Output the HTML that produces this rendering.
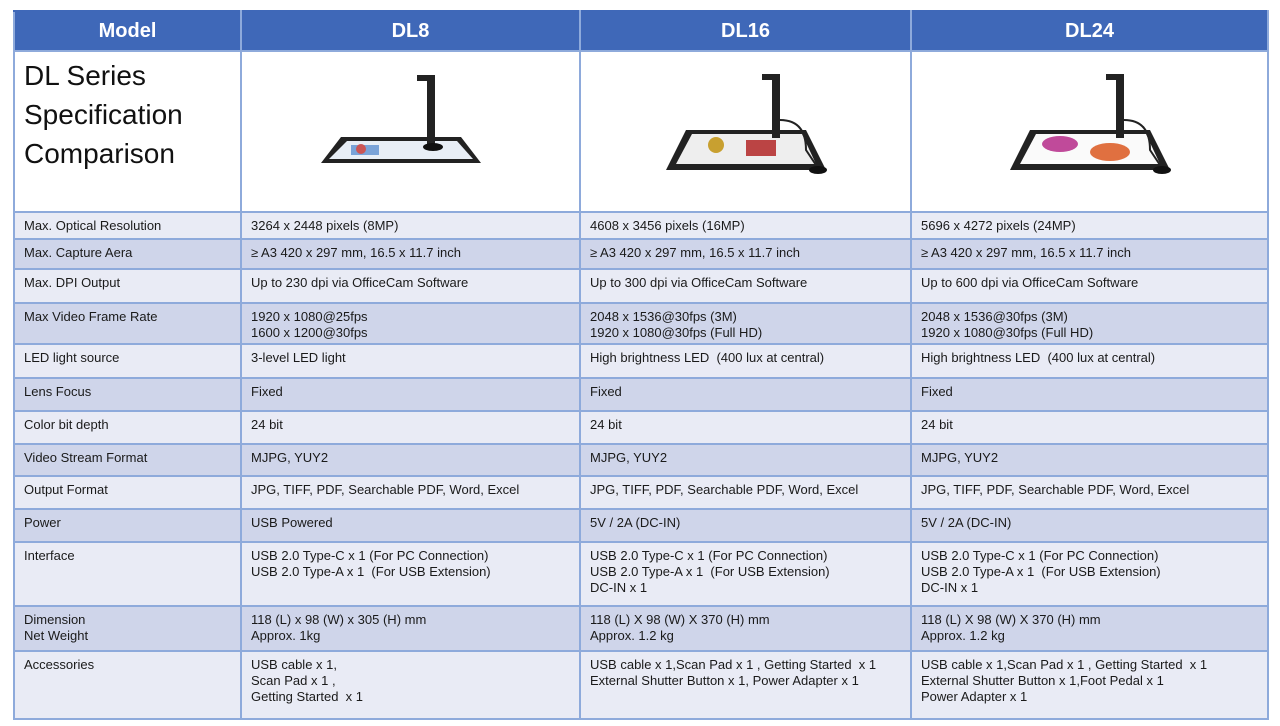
<!DOCTYPE html>
<html><head><meta charset="utf-8"><style>
body{margin:0;width:1280px;height:726px;background:#fff;overflow:hidden;font-family:"Liberation Sans",sans-serif;}
table{position:absolute;left:13px;top:10px;border-collapse:collapse;table-layout:fixed;width:1254px;}
td,th{border:2px solid #8eaadb;padding:5px 9px 0 9px;vertical-align:top;font-size:13px;line-height:16px;color:#1a1a1a;overflow:hidden;}
th{background:#3f68b8;color:#fff;font-size:20px;font-weight:bold;text-align:center;vertical-align:middle;padding:0;border-color:#3f68b8 #8eaadb #8eaadb #8eaadb;}
tr.l td{background:#e9ebf5}
tr.d td{background:#cfd5ea}
tr.img td{background:#fff;padding:0;vertical-align:middle;text-align:center}
.title{font-size:28px;line-height:39px;color:#111;text-align:left!important;padding:4px 0 0 9px!important;vertical-align:top!important}
</style></head><body>
<table>
<colgroup><col style="width:227px"><col style="width:339px"><col style="width:331px"><col style="width:357px"></colgroup>
<tr style="height:40px"><th>Model</th><th>DL8</th><th>DL16</th><th>DL24</th></tr>
<tr class="img" style="height:161px"><td class="title">DL Series<br>Specification<br>Comparison</td>
<td><svg width="180" height="110" viewBox="0 0 180 110"><polygon points="20,82 140,82 160,108 0,108" fill="#222" transform="translate(0,-20)"/><polygon points="26,66 136,66 152,84 8,84" fill="#e8eef6"/><rect x="30" y="70" width="28" height="10" fill="#7aa3d8"/><circle cx="40" cy="74" r="5" fill="#c55"/><rect x="106" y="0" width="8" height="70" fill="#222"/><rect x="96" y="0" width="18" height="6" fill="#222"/><ellipse cx="112" cy="72" rx="10" ry="4" fill="#111"/></svg></td>
<td><svg width="180" height="120" viewBox="0 0 180 120"><polygon points="30,60 150,60 170,100 10,100" fill="#222"/><polygon points="36,64 146,64 160,94 20,94" fill="#eee"/><circle cx="60" cy="75" r="8" fill="#c8a030"/><rect x="90" y="70" width="30" height="16" fill="#b44"/><rect x="116" y="4" width="8" height="64" fill="#222"/><rect x="106" y="4" width="18" height="6" fill="#222"/><path d="M124 50 Q150 50 150 80 L160 95" stroke="#222" fill="none" stroke-width="2"/><ellipse cx="162" cy="100" rx="9" ry="4" fill="#111"/></svg></td>
<td><svg width="180" height="120" viewBox="0 0 180 120"><polygon points="30,60 150,60 170,100 10,100" fill="#222"/><polygon points="36,64 146,64 160,94 20,94" fill="#fafafa"/><ellipse cx="60" cy="74" rx="18" ry="8" fill="#c04a9a"/><ellipse cx="110" cy="82" rx="20" ry="9" fill="#e07040"/><rect x="116" y="4" width="8" height="64" fill="#222"/><rect x="106" y="4" width="18" height="6" fill="#222"/><path d="M124 50 Q150 50 150 80 L160 95" stroke="#222" fill="none" stroke-width="2"/><ellipse cx="162" cy="100" rx="9" ry="4" fill="#111"/></svg></td></tr>
<tr class="l" style="height:27px"><td>Max. Optical Resolution</td><td>3264 x 2448 pixels (8MP)</td><td>4608 x 3456 pixels (16MP)</td><td>5696 x 4272 pixels (24MP)</td></tr>
<tr class="d" style="height:30px"><td>Max. Capture Aera</td><td>≥ A3 420 x 297 mm, 16.5 x 11.7 inch</td><td>≥ A3 420 x 297 mm, 16.5 x 11.7 inch</td><td>≥ A3 420 x 297 mm, 16.5 x 11.7 inch</td></tr>
<tr class="l" style="height:34px"><td>Max. DPI Output</td><td>Up to 230 dpi via OfficeCam Software</td><td>Up to 300 dpi via OfficeCam Software</td><td>Up to 600 dpi via OfficeCam Software</td></tr>
<tr class="d" style="height:41px"><td>Max Video Frame Rate</td><td>1920 x 1080@25fps<br>1600 x 1200@30fps</td><td>2048 x 1536@30fps (3M)<br>1920 x 1080@30fps (Full HD)</td><td>2048 x 1536@30fps (3M)<br>1920 x 1080@30fps (Full HD)</td></tr>
<tr class="l" style="height:34px"><td>LED light source</td><td>3-level LED light</td><td>High brightness LED&nbsp; (400 lux at central)</td><td>High brightness LED&nbsp; (400 lux at central)</td></tr>
<tr class="d" style="height:33px"><td>Lens Focus</td><td>Fixed</td><td>Fixed</td><td>Fixed</td></tr>
<tr class="l" style="height:33px"><td>Color bit depth</td><td>24 bit</td><td>24 bit</td><td>24 bit</td></tr>
<tr class="d" style="height:32px"><td>Video Stream Format</td><td>MJPG, YUY2</td><td>MJPG, YUY2</td><td>MJPG, YUY2</td></tr>
<tr class="l" style="height:33px"><td>Output Format</td><td>JPG, TIFF, PDF, Searchable PDF, Word, Excel</td><td>JPG, TIFF, PDF, Searchable PDF, Word, Excel</td><td>JPG, TIFF, PDF, Searchable PDF, Word, Excel</td></tr>
<tr class="d" style="height:33px"><td>Power</td><td>USB Powered</td><td>5V / 2A (DC-IN)</td><td>5V / 2A (DC-IN)</td></tr>
<tr class="l" style="height:64px"><td>Interface</td><td>USB 2.0 Type-C x 1 (For PC Connection)<br>USB 2.0 Type-A x 1&nbsp; (For USB Extension)</td><td>USB 2.0 Type-C x 1 (For PC Connection)<br>USB 2.0 Type-A x 1&nbsp; (For USB Extension)<br>DC-IN x 1</td><td>USB 2.0 Type-C x 1 (For PC Connection)<br>USB 2.0 Type-A x 1&nbsp; (For USB Extension)<br>DC-IN x 1</td></tr>
<tr class="d" style="height:45px"><td>Dimension<br>Net Weight</td><td>118 (L) x 98 (W) x 305 (H) mm<br>Approx. 1kg</td><td>118 (L) X 98 (W) X 370 (H) mm<br>Approx. 1.2 kg</td><td>118 (L) X 98 (W) X 370 (H) mm<br>Approx. 1.2 kg</td></tr>
<tr class="l" style="height:68px"><td>Accessories</td><td>USB cable x 1,<br>Scan Pad x 1 ,<br>Getting Started&nbsp; x 1</td><td>USB cable x 1,Scan Pad x 1 , Getting Started&nbsp; x 1<br>External Shutter Button x 1, Power Adapter x 1</td><td>USB cable x 1,Scan Pad x 1 , Getting Started&nbsp; x 1<br>External Shutter Button x 1,Foot Pedal x 1<br>Power Adapter x 1</td></tr>
</table>
</body></html>
